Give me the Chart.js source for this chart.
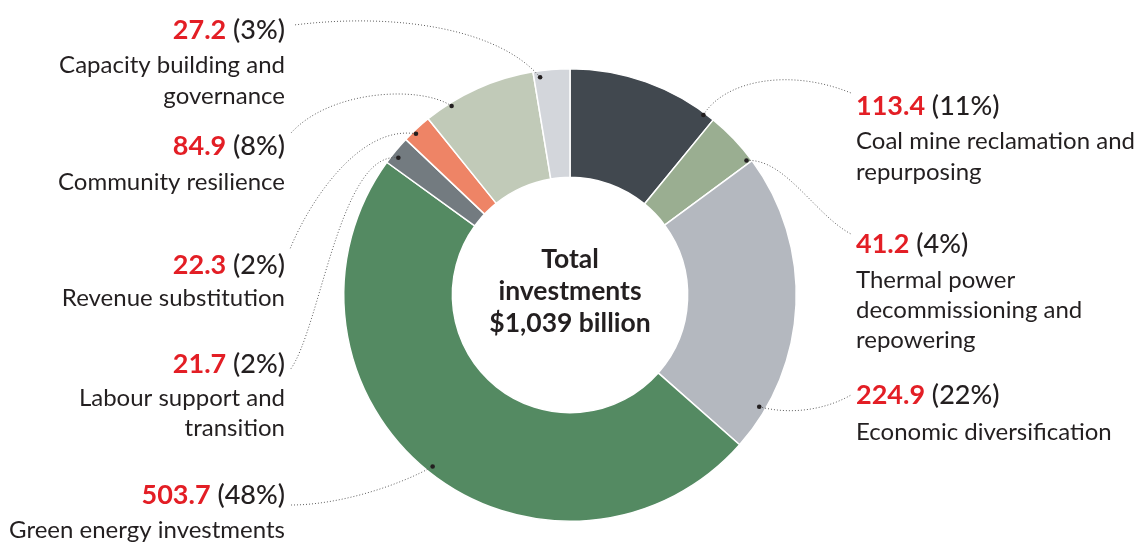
<!DOCTYPE html>
<html>
<head>
<meta charset="utf-8">
<script src="https://cdn.jsdelivr.net/npm/chart.js@4.4.0/dist/chart.umd.min.js"></script>
<style>
  html, body { margin: 0; padding: 0; background: #fff; }
  #wrap { width: 1142px; height: 542px; position: relative; }
</style>
</head>
<body>
<div id="wrap"><canvas id="donut" width="1142" height="542"></canvas></div>
<script>
// ── Datos ──
const categories = [
  ['Coal mine reclamation and', 'repurposing'],
  ['Thermal power', 'decommissioning and', 'repowering'],
  ['Economic diversification'],
  ['Green energy investments'],
  ['Labour support and', 'transition'],
  ['Revenue substitution'],
  ['Community resilience'],
  ['Capacity building and', 'governance']
];
const values = [113.4, 41.2, 224.9, 503.7, 21.7, 22.3, 84.9, 27.2];
const colors = ['#41484f', '#9aae91', '#b4b8bf', '#548a62', '#737b80', '#ee8466', '#c1cab8', '#d3d6db'];
const centerTitle = ['Total', 'investments'];

const RED = '#e31e25';
const INK = '#231f20';
const FONT = 'Lato, "Noto Sans", sans-serif';

// ── Posición de etiquetas (layout) ──
// side, x del texto, y de la línea de valor, punto final de guía, controles, posición del punto en el arco
const labelLayout = [
  { side: 'r', x: 856, y: 106, gaps: [35, 31], end: [851, 93],  c1: [725, 80],  c2: [790, 68],  dot: [0.93, 0.98] },
  { side: 'r', x: 856, y: 244, gaps: [36, 30, 30], end: [851, 234], c1: [785, 158], c2: [815, 215], dot: [0.94, 0.96] },
  { side: 'r', x: 856, y: 395, gaps: [37], end: [851, 395], c1: [790, 415], c2: [825, 410], dot: [0.86, 0.94] },
  { side: 'l', x: 285, y: 495, gaps: [35], end: [291, 505], c1: [400, 485], c2: [340, 505], dot: [0.50, 0.94] },
  { side: 'l', x: 285, y: 364, gaps: [34, 30], end: [290, 370], c1: [340, 150], c2: [320, 330], dot: [0.36, 0.94] },
  { side: 'l', x: 285, y: 265, gaps: [33], end: [290, 249], c1: [360, 125], c2: [310, 200], dot: [0.37, 0.97] },
  { side: 'l', x: 285, y: 146, gaps: [36], end: [291, 133], c1: [420, 85],  c2: [330, 90],  dot: [0.23, 0.97] },
  { side: 'l', x: 285, y: 30,  gaps: [35, 31], end: [294, 25],  c1: [500, 30],  c2: [400, 12],  dot: [0.17, 0.94] }
];

const total = values.reduce((a, b) => a + b, 0);

// ── Plugin: etiquetas, guías y texto central ──
const etiquetas = {
  id: 'etiquetas',
  afterDraw(chart) {
    const ctx = chart.ctx;
    const arcs = chart.getDatasetMeta(0).data;
    ctx.save();

    arcs.forEach((arc, i) => {
      const L = labelLayout[i];
      const p = arc.getProps(['x', 'y', 'startAngle', 'endAngle', 'innerRadius', 'outerRadius'], true);
      const ang = p.startAngle + L.dot[0] * (p.endAngle - p.startAngle);
      const rad = p.innerRadius + L.dot[1] * (p.outerRadius - p.innerRadius);
      const dx = p.x + Math.cos(ang) * rad;
      const dy = p.y + Math.sin(ang) * rad;

      // línea punteada
      ctx.beginPath();
      ctx.setLineDash([1, 2]);
      ctx.strokeStyle = '#5e5e5e';
      ctx.lineWidth = 1;
      ctx.moveTo(dx, dy);
      ctx.bezierCurveTo(L.c1[0], L.c1[1], L.c2[0], L.c2[1], L.end[0], L.end[1]);
      ctx.stroke();
      ctx.setLineDash([]);

      // punto
      ctx.beginPath();
      ctx.fillStyle = INK;
      ctx.arc(dx, dy, 2.3, 0, Math.PI * 2);
      ctx.fill();

      // texto
      const val = values[i].toFixed(1);
      const pct = ' (' + Math.round(values[i] / total * 100) + '%)';
      ctx.textBaseline = 'middle';
      ctx.textAlign = 'left';
      const fv = 'bold 27px ' + FONT;
      const fp = '500 27px ' + FONT;
      ctx.font = fv;
      const wv = ctx.measureText(val).width;
      ctx.font = fp;
      const wp = ctx.measureText(pct).width;
      const x0 = L.side === 'r' ? L.x : L.x - wv - wp;
      ctx.font = fv;
      ctx.fillStyle = RED;
      ctx.fillText(val, x0, L.y);
      ctx.font = fp;
      ctx.fillStyle = INK;
      ctx.fillText(pct, x0 + wv, L.y);

      ctx.font = '24px ' + FONT;
      ctx.fillStyle = INK;
      ctx.textAlign = L.side === 'r' ? 'left' : 'right';
      let y = L.y;
      categories[i].forEach((line, k) => {
        y += L.gaps[k];
        ctx.fillText(line, L.x, y);
      });
    });

    // texto central
    const c = arcs[0];
    ctx.textAlign = 'center';
    ctx.textBaseline = 'middle';
    ctx.fillStyle = INK;
    ctx.font = 'bold 26.5px ' + FONT;
    const lines = centerTitle.concat(['$' + Math.round(total).toLocaleString('en-US') + ' billion']);
    lines.forEach((t, k) => ctx.fillText(t, c.x, 259 + k * 32));
    ctx.restore();
  }
};

new Chart(document.getElementById('donut'), {
  type: 'doughnut',
  data: {
    labels: categories.map(c => c.join(' ')),
    datasets: [{
      data: values,
      backgroundColor: colors,
      borderColor: '#ffffff',
      borderWidth: 1.5,
      hoverOffset: 0
    }]
  },
  options: {
    responsive: false,
    animation: false,
    cutout: '52%',
    layout: { padding: { left: 343, right: 345, top: 68, bottom: 20 } },
    plugins: {
      legend: { display: false },
      tooltip: { enabled: false }
    },
    events: []
  },
  plugins: [etiquetas]
});
</script>
</body>
</html>
